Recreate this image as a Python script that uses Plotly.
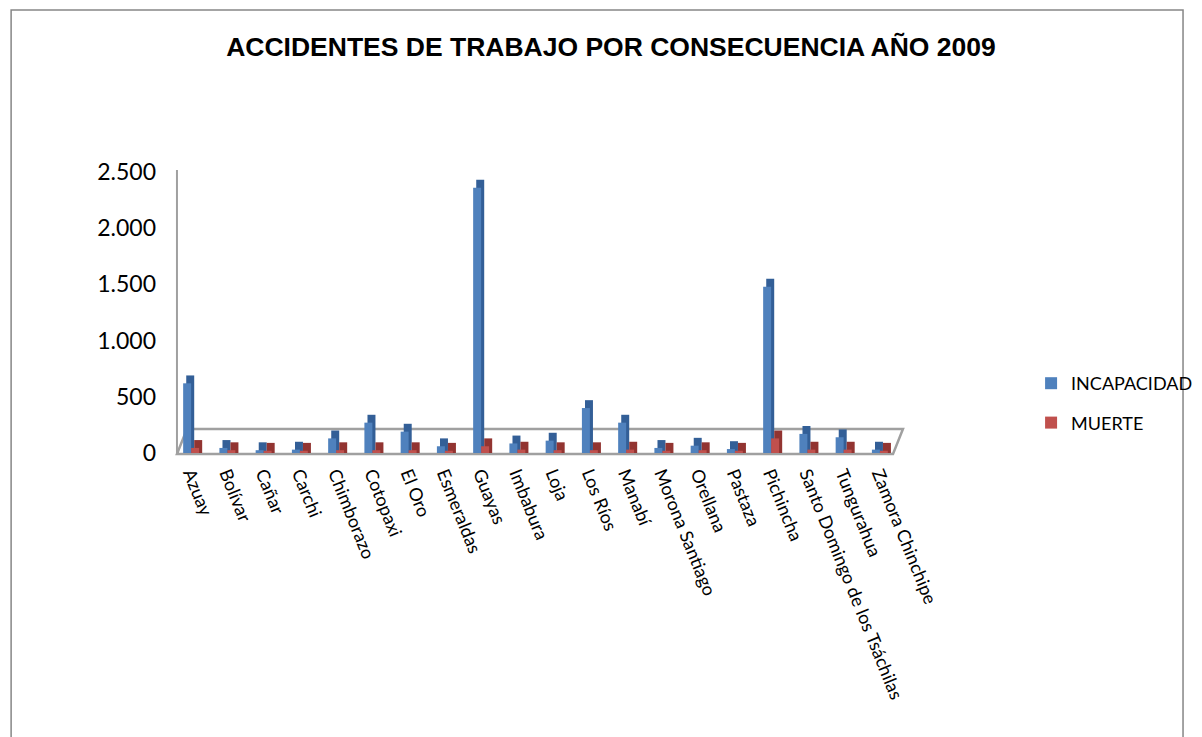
import plotly.graph_objects as go

# Accidentes de trabajo 2009 por provincia
provincias = ["Azuay", "Bolívar", "Cañar", "Carchi", "Chimborazo", "Cotopaxi", "El Oro",
              "Esmeraldas", "Guayas", "Imbabura", "Loja", "Los Ríos", "Manabí",
              "Morona Santiago", "Orellana", "Pastaza", "Pichincha",
              "Santo Domingo de los Tsáchilas", "Tungurahua", "Zamora Chinchipe"]
incapacidad = [620, 45, 25, 30, 130, 270, 190, 60, 2360, 85, 110, 400, 270,
               45, 65, 35, 1480, 170, 140, 30]
muerte = [45, 25, 20, 20, 25, 25, 25, 20, 60, 30, 25, 25, 30,
          20, 25, 20, 130, 30, 30, 20]

BLUE, BLUE_D = "#4F81BD", "#335F97"
RED, RED_D = "#C0504D", "#923431"
FONT = "Lato"

W = 0.22      # bar width (category units)
SHIFT = 0.085  # fake depth offset
CAP = 70      # fake depth height (data units)

# the page body adds an 8px margin, so layout is given in page pixels minus that
OFF = 8
X0, X1, Y0, Y1 = 173 - OFF, 903 - OFF, 172 - OFF, 453 - OFF   # plot area

fig = go.Figure()


def add_series(name, vals, off, col, col_d, group):
    # darker "depth" box behind the bar to fake the 3-D look
    fig.add_trace(go.Bar(x=provincias, y=[v + CAP for v in vals], offset=off + SHIFT,
                         width=W, marker=dict(color=col_d, line=dict(width=0)),
                         showlegend=False, hoverinfo="skip", legendgroup=group))
    fig.add_trace(go.Bar(x=provincias, y=vals, offset=off, width=W, name=name,
                         marker=dict(color=col, line=dict(width=0)), legendgroup=group,
                         hovertemplate="%{x}<br>" + name + ": %{y}<extra></extra>"))


add_series("INCAPACIDAD", incapacidad, -W, BLUE, BLUE_D, "a")
add_series("MUERTE", muerte, 0.0, RED, RED_D, "b")


# page pixel -> paper coordinates
def px(x):
    return (x - OFF - X0) / (X1 - X0)


def py(y):
    return (Y1 - (y - OFF)) / (Y1 - Y0)


shapes = [
    # outer chart border
    dict(type="rect", xref="paper", yref="paper", x0=px(10), x1=px(1190), y0=py(770), y1=py(10),
         line=dict(color="#868686", width=1.5), fillcolor="rgba(0,0,0,0)", layer="below"),
    # floor
    dict(type="path", xref="paper", yref="paper", layer="below",
         path=f"M {px(177)},{py(454)} L {px(898)},{py(454)} L {px(908)},{py(429)} "
              f"L {px(187)},{py(429)} Z",
         line=dict(color="#A0A0A0", width=2.5), fillcolor="white"),
    # back wall edge
    dict(type="line", xref="paper", yref="paper", layer="below",
         x0=px(177), x1=px(177), y0=py(453), y1=py(170),
         line=dict(color="#A0A0A0", width=2)),
]

fig.update_layout(
    width=1202, height=737,
    barmode="overlay",
    paper_bgcolor="white", plot_bgcolor="rgba(0,0,0,0)",
    margin=dict(l=X0, r=1202 - X1, t=Y0, b=737 - Y1),
    separators=",.",
    title=dict(text="<b>ACCIDENTES DE TRABAJO POR CONSECUENCIA AÑO 2009</b>",
               x=(611 - OFF) / 1202, xanchor="center", y=1 - (47 - OFF) / 737,
               yanchor="middle", yref="container",
               font=dict(family="Liberation Sans, Arial", size=26.5, color="black")),
    legend=dict(x=px(1037), y=py(365), xanchor="left", yanchor="top",
                font=dict(family=FONT, size=18, color="black"),
                traceorder="grouped", tracegroupgap=13, itemwidth=30,
                bgcolor="rgba(0,0,0,0)"),
    shapes=shapes,
    showlegend=True,
)
fig.update_xaxes(showgrid=False, showline=False, zeroline=False, tickangle=68,
                 tickfont=dict(family=FONT, size=18, color="black"), ticks="",
                 ticklabelstandoff=6)
fig.update_yaxes(range=[0, 2500], dtick=500, tickformat=",d", showgrid=False,
                 showline=False, zeroline=False, ticks="",
                 tickfont=dict(family=FONT, size=23, color="black"), ticklabelstandoff=16)

fig.write_html("out.html")
